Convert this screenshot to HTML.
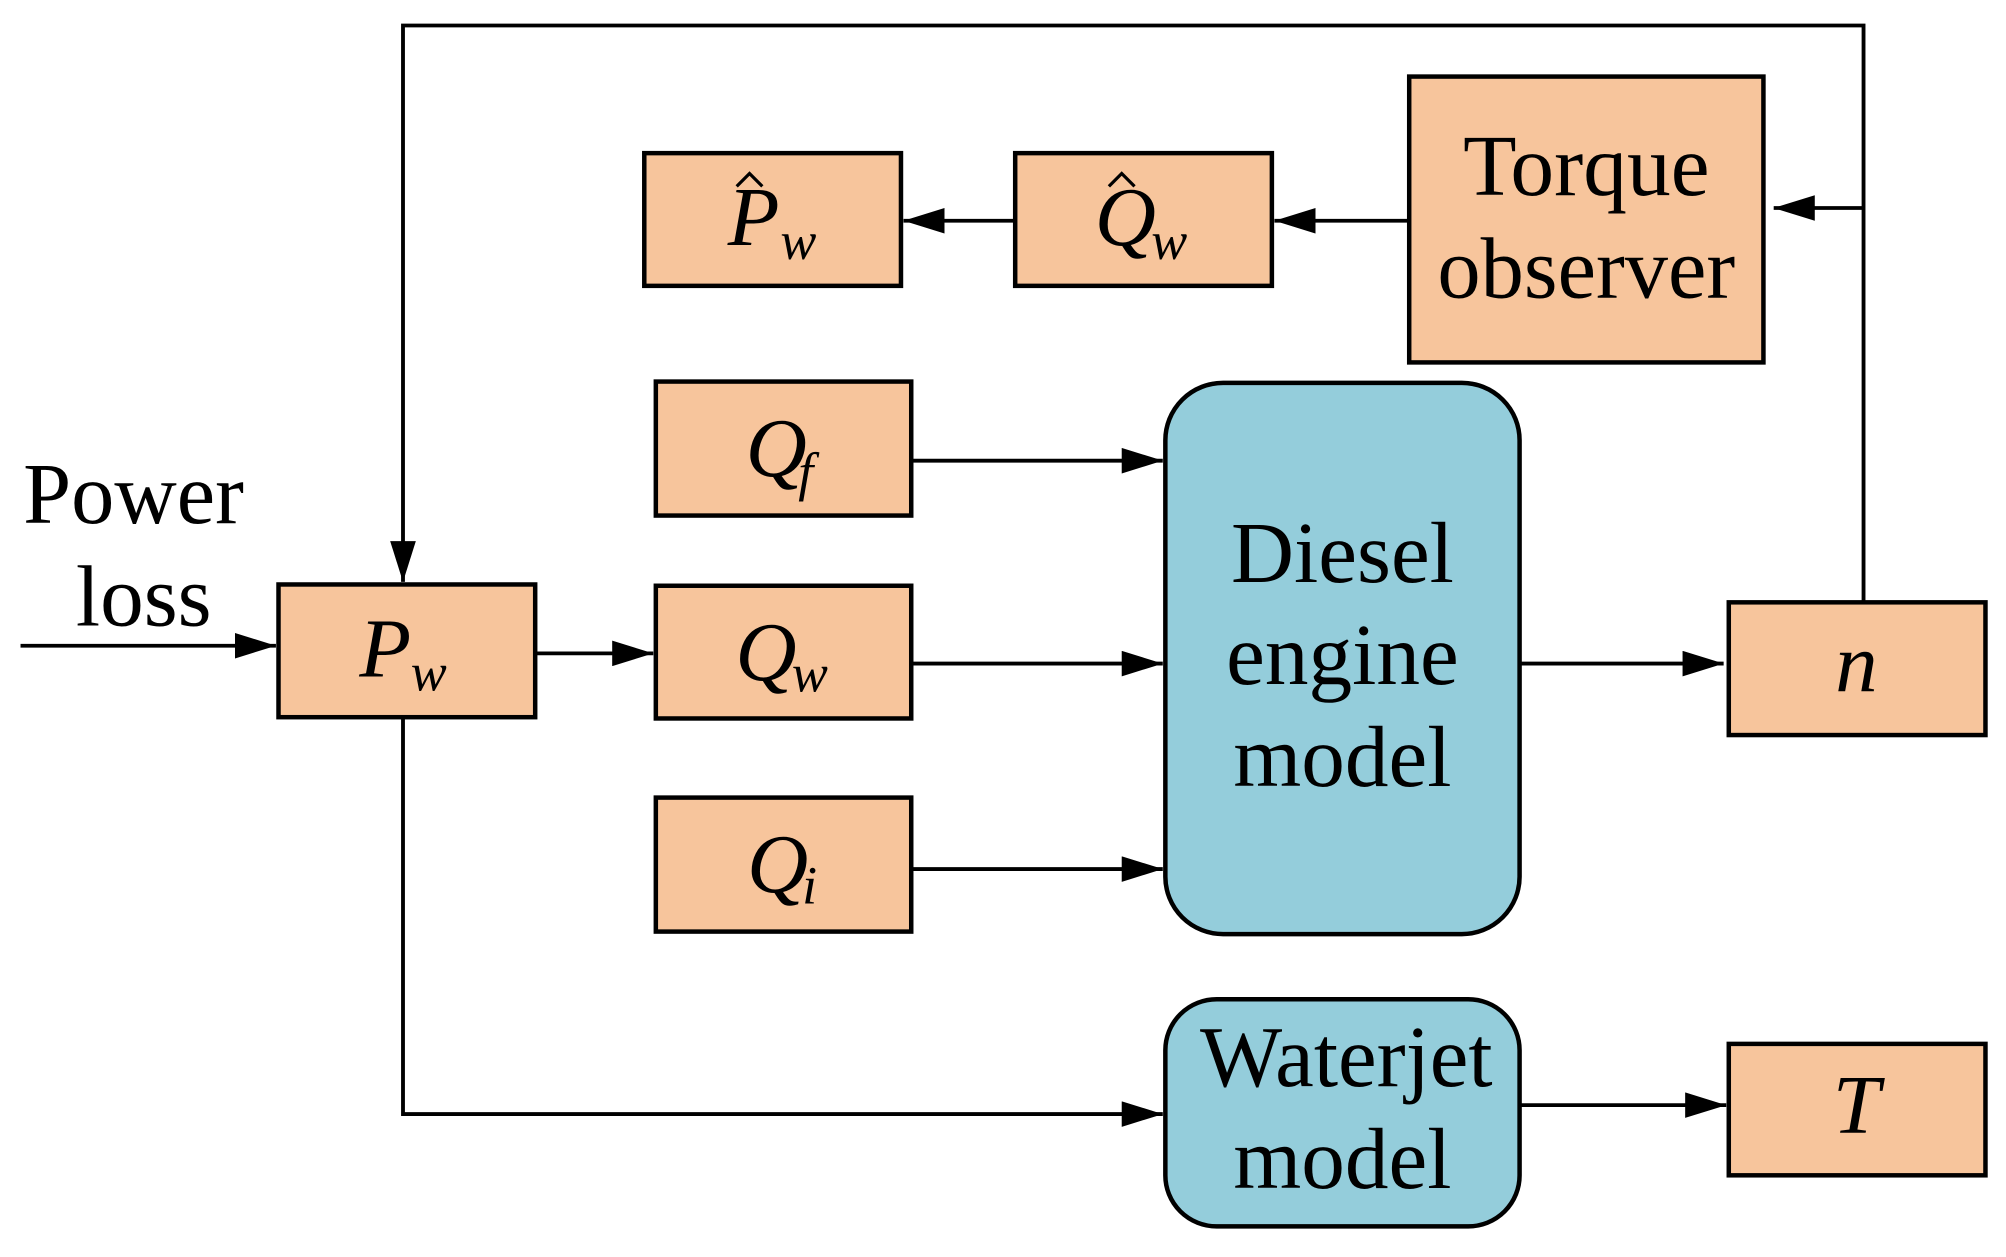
<!DOCTYPE html>
<html><head><style>html,body{margin:0;padding:0;background:#fff}svg{display:block}</style></head>
<body>
<svg width="2006" height="1257" viewBox="0 0 1563 985" preserveAspectRatio="none" xmlns="http://www.w3.org/2000/svg" font-family="Liberation Serif, serif">
<defs>
<marker id="b" viewBox="0 0 32 20" refX="32" refY="10" markerWidth="32" markerHeight="20" orient="auto" markerUnits="userSpaceOnUse"><path d="M0,0 L32,10 L0,20 Z" fill="#000"/></marker></defs>
<g stroke="#000" stroke-width="3.5" fill="#f7c59c">
<rect x="502" y="120" width="200" height="104"/>
<rect x="791" y="120" width="200" height="104"/>
<rect x="1098" y="60" width="276" height="224"/>
<rect x="511" y="299" width="199" height="105"/>
<rect x="511" y="459" width="199" height="104"/>
<rect x="511" y="625" width="199" height="105"/>
<rect x="217" y="458" width="200" height="104"/>
<rect x="1347" y="472" width="200" height="104"/>
<rect x="1347" y="818" width="200" height="103"/>
<rect x="908" y="300" width="276" height="432" rx="45" fill="#94cddb"/>
<rect x="908" y="783" width="276" height="178" rx="40" fill="#94cddb"/>
</g>
<g stroke="#000" stroke-width="3" fill="none">
<polyline points="1452,472 1452,20 314,20 314,456" marker-end="url(#b)"/>
<line x1="1452" y1="163" x2="1382" y2="163" marker-end="url(#b)"/>
<line x1="1098" y1="173" x2="993" y2="173" marker-end="url(#b)"/>
<line x1="791" y1="173" x2="704" y2="173" marker-end="url(#b)"/>
<line x1="710" y1="361" x2="906" y2="361" marker-end="url(#b)"/>
<line x1="710" y1="520" x2="906" y2="520" marker-end="url(#b)"/>
<line x1="710" y1="681" x2="906" y2="681" marker-end="url(#b)"/>
<line x1="417" y1="512" x2="509" y2="512" marker-end="url(#b)"/>
<line x1="16" y1="506" x2="215" y2="506" marker-end="url(#b)"/>
<line x1="1184" y1="520" x2="1343" y2="520" marker-end="url(#b)"/>
<polyline points="314,562 314,873 906,873" marker-end="url(#b)"/>
<line x1="1184" y1="866" x2="1345" y2="866" marker-end="url(#b)"/>
<polyline points="574,146 584,136 594,146" stroke-width="2.5"/>
<polyline points="864,146 874,136 884,146" stroke-width="2.5"/>
</g>
<g font-size="68" fill="#000" text-anchor="middle">
<text x="104" y="410" textLength="172" lengthAdjust="spacingAndGlyphs">Power</text>
<text x="112" y="490">loss</text>
<text x="1236" y="153" textLength="192" lengthAdjust="spacingAndGlyphs">Torque</text>
<text x="1236" y="233" textLength="232" lengthAdjust="spacingAndGlyphs">observer</text>
<text x="1046" y="456">Diesel</text>
<text x="1046" y="536">engine</text>
<text x="1046" y="616">model</text>
<text x="1049" y="851" textLength="228" lengthAdjust="spacingAndGlyphs">Waterjet</text>
<text x="1046" y="931">model</text>
</g>
<g font-size="66" font-style="italic" fill="#000">
<text x="567" y="192">P</text><text x="608" y="203" font-size="42">w</text>
<text x="853" y="192">Q</text><text x="897" y="203" font-size="42">w</text>
<text x="581" y="373">Q</text><text x="622" y="384" font-size="42">f</text>
<text x="573" y="533">Q</text><text x="617" y="542" font-size="42">w</text>
<text x="582" y="699">Q</text><text x="625" y="708" font-size="42">i</text>
<text x="280" y="530">P</text><text x="320" y="541" font-size="42">w</text>
<text x="1430" y="542">n</text>
<text x="1428" y="888">T</text>
</g>
</svg>
</body></html>
